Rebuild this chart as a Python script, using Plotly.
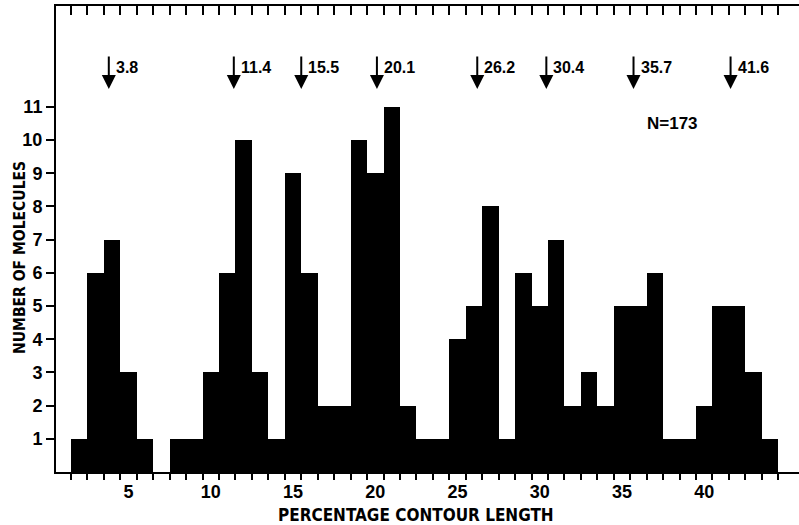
import plotly.graph_objects as go

# ---- data ----
bin_centers = list(range(2, 45))
counts = [1, 6, 7, 3, 1, 0, 1, 1, 3, 6, 10, 3, 1, 9, 6, 2, 2, 10, 9, 11,
          2, 1, 1, 4, 5, 8, 1, 6, 5, 7, 2, 3, 2, 5, 5, 6, 1, 1, 2, 5, 5, 3, 1]
peak_positions = [3.8, 11.4, 15.5, 20.1, 26.2, 30.4, 35.7, 41.6]
peak_labels = ["3.8", "11.4", "15.5", "20.1", "26.2", "30.4", "35.7", "41.6"]
x_tick_vals = [5, 10, 15, 20, 25, 30, 35, 40]
x_tick_text = ["5", "10", "15", "20", "25", "30", "35", "40"]
y_tick_vals = list(range(1, 12))
bin_edges = [c + 0.5 for c in range(1, 45)]
n_total = "N=173"

XR = [0.59, 45.76]
YR = [0, 14.04]
FONT = "Liberation Sans, Arial, sans-serif"
NARROW = "Liberation Sans Narrow, Arial Narrow, DejaVu Sans Condensed, Liberation Sans, sans-serif"

fig = go.Figure()
fig.add_trace(go.Bar(x=bin_centers, y=counts, width=1,
                     marker=dict(color="black", line=dict(width=0)),
                     showlegend=False, hoverinfo="skip"))
fig.add_trace(go.Scatter(x=[None], y=[None], xaxis="x2", yaxis="y",
                         showlegend=False, hoverinfo="skip"))

annotations = []
for p, lab in zip(peak_positions, peak_labels):
    annotations.append(dict(x=p, y=11.54, xref="x", yref="y", text="",
                            showarrow=True, ax=0, ay=-34, arrowhead=2,
                            arrowsize=1.4, arrowwidth=2, arrowcolor="black"))
    annotations.append(dict(x=p, y=12.2, xref="x", yref="y", text=lab,
                            showarrow=False, xanchor="left", yanchor="middle",
                            xshift=5, font=dict(family=FONT, size=16, color="black",
                                                weight="bold")))
annotations.append(dict(x=38.04, y=10.51, xref="x", yref="y", text=n_total,
                        showarrow=False, xanchor="center", yanchor="middle",
                        font=dict(family=FONT, size=17, color="black", weight="bold")))
annotations.append(dict(x=0, y=6.45, xref="paper", yref="y", text="NUMBER OF MOLECULES",
                        showarrow=False, textangle=-90, xanchor="center", yanchor="middle",
                        xshift=-36, font=dict(family=NARROW, size=15.5, color="black",
                                              weight="bold")))
annotations.append(dict(x=22.5, y=0, xref="x", yref="paper", text="PERCENTAGE CONTOUR LENGTH",
                        showarrow=False, xanchor="center", yanchor="middle",
                        yshift=-43, font=dict(family=NARROW, size=17, color="black",
                                              weight="bold")))

fig.update_layout(
    width=799, height=525,
    margin=dict(l=56, r=0, t=6, b=53, autoexpand=False),
    paper_bgcolor="white", plot_bgcolor="rgba(0,0,0,0)",
    bargap=0,
    annotations=annotations,
    xaxis=dict(range=XR, showline=True, linewidth=2, linecolor="black",
               showgrid=False, zeroline=False, automargin=False,
               tickmode="array", tickvals=x_tick_vals, ticktext=x_tick_text,
               ticks="outside", ticklen=2, tickcolor="rgba(0,0,0,0)",
               tickfont=dict(family=FONT, size=18, color="black", weight="bold"),
               minor=dict(tickmode="array", tickvals=bin_edges, ticks="outside",
                          ticklen=6, tickwidth=2, tickcolor="black", showgrid=False)),
    xaxis2=dict(range=XR, overlaying="x", side="top", anchor="y",
                showline=True, linewidth=2, linecolor="black", automargin=False,
                showgrid=False, zeroline=False, showticklabels=False,
                tickmode="array", tickvals=bin_edges, ticks="inside",
                ticklen=9, tickwidth=2, tickcolor="black", layer="above traces"),
    yaxis=dict(range=YR, showline=True, linewidth=2, linecolor="black",
               showgrid=False, zeroline=False, automargin=False,
               tickmode="array", tickvals=y_tick_vals,
               ticks="outside", ticklen=8, tickwidth=2, tickcolor="black",
               tickfont=dict(family=FONT, size=18, color="black", weight="bold")),
)

fig.write_html("out.html", config={"displayModeBar": False},
               post_script="document.body.style.margin='0';document.body.style.overflow='hidden';")
